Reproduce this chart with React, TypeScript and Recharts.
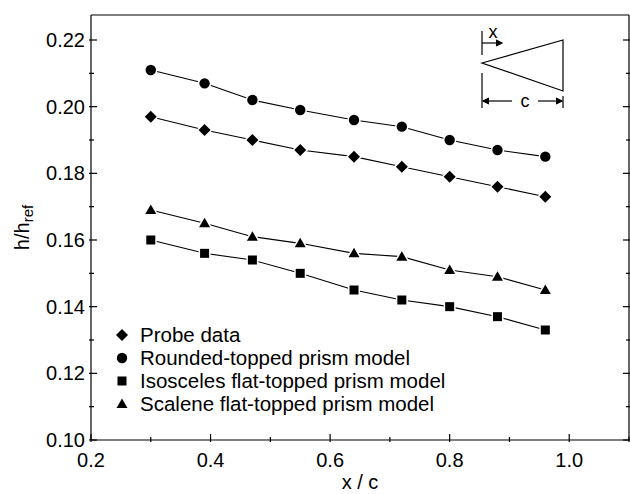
import React from 'react';
import { ScatterChart, Scatter, XAxis, YAxis } from 'recharts';

const xc = [0.3, 0.39, 0.47, 0.55, 0.64, 0.72, 0.8, 0.88, 0.96];
const probeValues = [0.197, 0.193, 0.19, 0.187, 0.185, 0.182, 0.179, 0.176, 0.173];
const roundedValues = [0.211, 0.207, 0.202, 0.199, 0.196, 0.194, 0.19, 0.187, 0.185];
const isoscelesValues = [0.16, 0.156, 0.154, 0.15, 0.145, 0.142, 0.14, 0.137, 0.133];
const scaleneValues = [0.169, 0.165, 0.161, 0.159, 0.156, 0.155, 0.151, 0.149, 0.145];

const xTicks = [0.2, 0.3, 0.4, 0.5, 0.6, 0.7, 0.8, 0.9, 1.0, 1.1];
const xLabels = ['0.2', '0.4', '0.6', '0.8', '1.0'];
const yTicks = [0.1, 0.11, 0.12, 0.13, 0.14, 0.15, 0.16, 0.17, 0.18, 0.19, 0.2, 0.21, 0.22];
const yLabels = ['0.10', '0.12', '0.14', '0.16', '0.18', '0.20', '0.22'];

const FONT = '"Liberation Sans", Arial, Helvetica, sans-serif';

const toPoints = (vals: number[]) => xc.map((x, i) => ({ x, y: vals[i] }));

const findLabel = (v: number, labels: string[]) =>
  labels.find((l) => Math.abs(parseFloat(l) - v) < 1e-6);

// marker shapes, white outline under the fill leaves a small gap to the line
const Diamond = ({ cx, cy }: any) => (
  <path d={`M${cx},${cy - 6}L${cx + 6},${cy}L${cx},${cy + 6}L${cx - 6},${cy}Z`}
    fill="#000" stroke="#fff" strokeWidth={3} paintOrder="stroke" />
);
const Circle = ({ cx, cy }: any) => (
  <circle cx={cx} cy={cy} r={5.2} fill="#000" stroke="#fff" strokeWidth={3} paintOrder="stroke" />
);
const Square = ({ cx, cy }: any) => (
  <rect x={cx - 4.5} y={cy - 4.5} width={9} height={9} fill="#000" stroke="#fff" strokeWidth={3} paintOrder="stroke" />
);
const Triangle = ({ cx, cy }: any) => (
  <path d={`M${cx},${cy - 5.5}L${cx + 5.5},${cy + 4}L${cx - 5.5},${cy + 4}Z`}
    fill="#000" stroke="#fff" strokeWidth={3} paintOrder="stroke" />
);

const series = [
  { name: 'Probe data', values: probeValues, Shape: Diamond },
  { name: 'Rounded-topped prism model', values: roundedValues, Shape: Circle },
  { name: 'Isosceles flat-topped prism model', values: isoscelesValues, Shape: Square },
  { name: 'Scalene flat-topped prism model', values: scaleneValues, Shape: Triangle },
];

const BottomTick = ({ x, y, payload }: any) => {
  const label = findLabel(payload.value, xLabels);
  return (
    <g>
      <line x1={x} x2={x} y1={y} y2={y - (label ? 8 : 5)} stroke="#000" strokeWidth={1.2} />
      {label && (
        <text x={x} y={y + 25} textAnchor="middle" fontSize={20} fontFamily={FONT} fill="#000">{label}</text>
      )}
    </g>
  );
};
const TopTick = ({ x, y, payload }: any) => {
  const major = findLabel(payload.value, xLabels);
  return <line x1={x} x2={x} y1={y} y2={y + (major ? 8 : 5)} stroke="#000" strokeWidth={1.2} />;
};
const LeftTick = ({ x, y, payload }: any) => {
  const label = findLabel(payload.value, yLabels);
  return (
    <g>
      <line x1={x} x2={x + (label ? 8 : 5)} y1={y} y2={y} stroke="#000" strokeWidth={1.2} />
      {label && (
        <text x={x - 4} y={y + 7} textAnchor="end" fontSize={20} fontFamily={FONT} fill="#000">{label}</text>
      )}
    </g>
  );
};
const RightTick = ({ x, y, payload }: any) => {
  const major = findLabel(payload.value, yLabels);
  return <line x1={x} x2={x - (major ? 8 : 5)} y1={y} y2={y} stroke="#000" strokeWidth={1.2} />;
};

const YLabel = ({ viewBox }: any) => {
  const cx = 22;
  const cy = viewBox.y + viewBox.height / 2;
  return (
    <text x={cx} y={cy} transform={`rotate(-90, ${cx}, ${cy})`} textAnchor="middle"
      dominantBaseline="central" fontSize={20} fontFamily={FONT} fill="#000">
      h/h<tspan dy={5} fontSize={15}>ref</tspan>
    </text>
  );
};
const XLabel = ({ viewBox }: any) => (
  <text x={viewBox.x + viewBox.width / 2} y={489} textAnchor="middle" fontSize={20} fontFamily={FONT} fill="#000">
    x / c
  </text>
);

// small geometry sketch in the upper right corner
const Inset = () => (
  <svg width={630} height={494} style={{ position: 'absolute', left: 0, top: 0, pointerEvents: 'none' }}>
    <g stroke="#000" strokeWidth={1.2} fill="none">
      <path d="M482,63 L563,40 L563,91 Z" />
      <line x1={482} x2={482} y1={31} y2={55} />
      <line x1={482} x2={500} y1={43} y2={43} />
      <path d="M496,40 L502,43 L496,46" fill="#000" />
      <line x1={482} x2={482} y1={73} y2={108} />
      <line x1={563} x2={563} y1={96} y2={108} />
      <line x1={483} x2={512} y1={101} y2={101} />
      <line x1={538} x2={562} y1={101} y2={101} />
      <path d="M489,98 L483,101 L489,104" fill="#000" />
      <path d="M556,98 L562,101 L556,104" fill="#000" />
    </g>
    <text x={493} y={38} textAnchor="middle" fontSize={18} fontFamily={FONT}>x</text>
    <text x={525} y={107} textAnchor="middle" fontSize={18} fontFamily={FONT}>c</text>
  </svg>
);

const LegendBox = () => (
  <div style={{ position: 'absolute', left: 112, top: 323, fontFamily: FONT, fontSize: 20.5, color: '#000' }}>
    {series.map(({ name, Shape }) => (
      <div key={name} style={{ display: 'flex', alignItems: 'center', height: 23 }}>
        <svg width={22} height={20}><Shape cx={10} cy={10} /></svg>
        <span style={{ marginLeft: 6, whiteSpace: 'nowrap' }}>{name}</span>
      </div>
    ))}
  </div>
);

export default function App() {
  return (
    <div style={{ position: 'absolute', left: 0, top: 0, width: 630, height: 494, background: '#fff' }}>
      <ScatterChart width={630} height={494} margin={{ top: 0, right: 0, bottom: 0, left: 0 }}>
        <XAxis dataKey="x" type="number" domain={[0.2, 1.1]} ticks={xTicks} interval={0}
          height={54} tickSize={0} tickLine={false} tick={<BottomTick />}
          axisLine={{ stroke: '#000', strokeWidth: 1.2 }} allowDataOverflow label={<XLabel />} />
        <XAxis xAxisId="top" orientation="top" type="number" domain={[0.2, 1.1]} ticks={xTicks} interval={0}
          height={15} tickSize={0} tickLine={false} tick={<TopTick />}
          axisLine={{ stroke: '#000', strokeWidth: 1.2 }} allowDataOverflow />
        <YAxis dataKey="y" type="number" domain={[0.1, 0.2275]} ticks={yTicks} interval={0}
          width={91} tickSize={0} tickLine={false} tick={<LeftTick />}
          axisLine={{ stroke: '#000', strokeWidth: 1.2 }} allowDataOverflow label={<YLabel />} />
        <YAxis yAxisId="right" orientation="right" type="number" domain={[0.1, 0.2275]} ticks={yTicks} interval={0}
          width={1} tickSize={0} tickLine={false} tick={<RightTick />}
          axisLine={{ stroke: '#000', strokeWidth: 1.2 }} allowDataOverflow />
        {series.map(({ name, values, Shape }) => (
          <Scatter key={name} name={name} data={toPoints(values)} fill="#000"
            line={{ stroke: '#000', strokeWidth: 1.1 }} shape={(p: any) => <Shape cx={p.cx} cy={p.cy} />}
            isAnimationActive={false} />
        ))}
      </ScatterChart>
      <LegendBox />
      <Inset />
    </div>
  );
}
